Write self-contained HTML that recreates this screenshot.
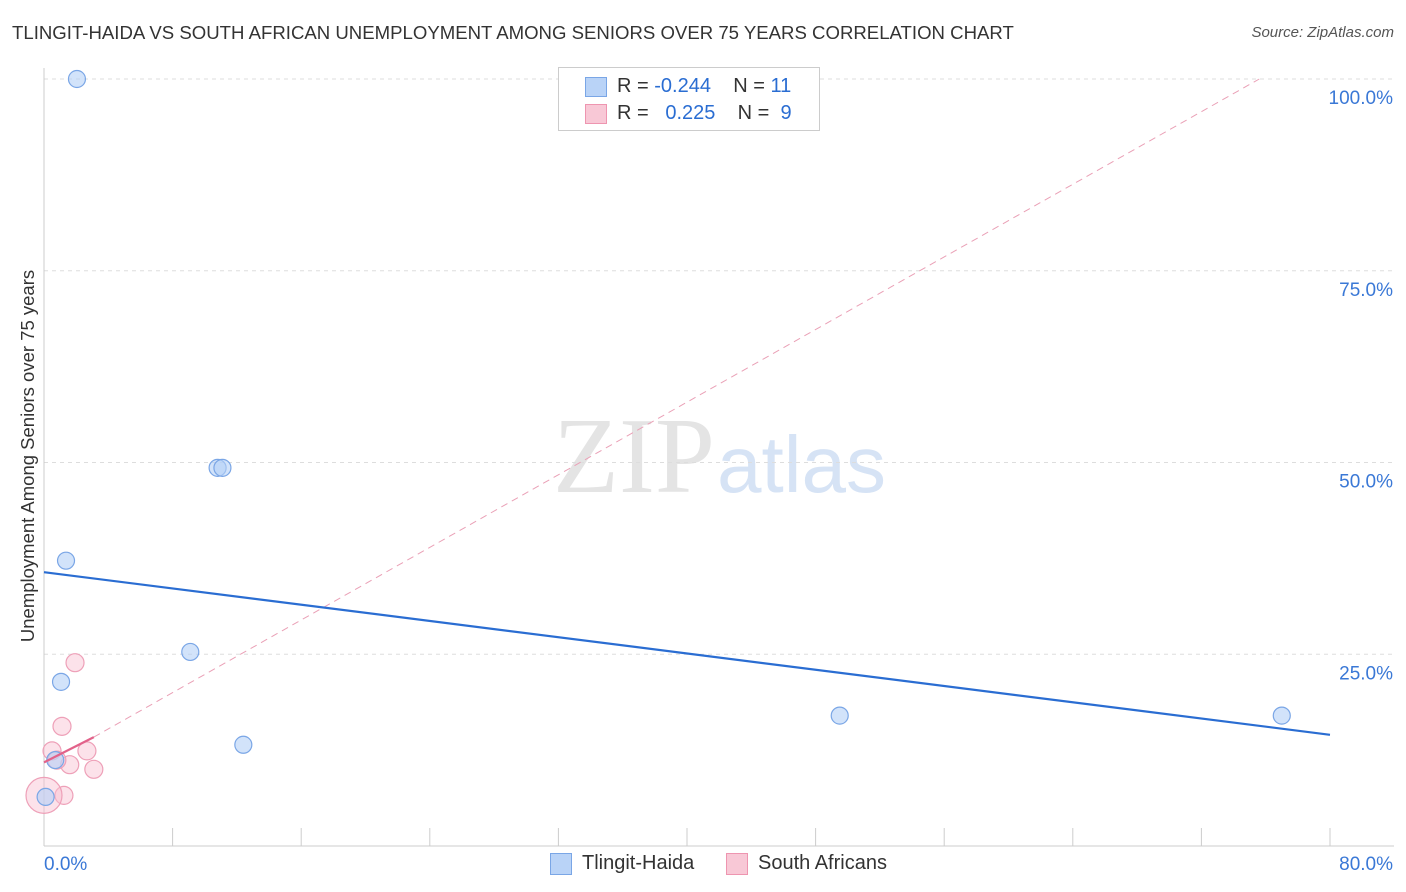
<!DOCTYPE html>
<html><head><meta charset="utf-8">
<style>
body{margin:0;background:#fff;font-family:"Liberation Sans",sans-serif;}
#wrap{position:relative;width:1406px;height:892px;overflow:hidden;}
.t{position:absolute;white-space:nowrap;}
</style></head>
<body>
<div id="wrap">
<div class="t" style="left:12px;top:22px;font-size:18.6px;color:#333;">TLINGIT-HAIDA VS SOUTH AFRICAN UNEMPLOYMENT AMONG SENIORS OVER 75 YEARS CORRELATION CHART</div>
<div class="t" style="right:12px;top:24px;font-size:15px;color:#555;font-style:italic;">Source: ZipAtlas.com</div>
<svg id="svg" width="1406" height="892" style="position:absolute;left:0;top:0">
<text x="553" y="492" font-size="108" font-family="Liberation Serif" fill="#e4e4e4">ZIP</text>
<text x="717" y="492" font-size="80" font-family="Liberation Sans" fill="#d6e3f5">atlas</text>
</svg>
<div style="position:absolute;left:558px;top:67px;width:260px;height:62px;border:1px solid #ccc;background:#fff;">
 <div style="position:absolute;left:26px;top:9px;width:20px;height:18px;background:#b9d3f7;border:1px solid #7aa6e6"></div>
 <div class="t" style="left:58px;top:7px;font-size:20px;color:#333">R = <span style="color:#2a6dd2">-0.244</span>&nbsp;&nbsp;&nbsp; N = <span style="color:#2a6dd2">11</span></div>
 <div style="position:absolute;left:26px;top:36px;width:20px;height:18px;background:#f8c8d6;border:1px solid #ee95b0"></div>
 <div class="t" style="left:58px;top:34px;font-size:20px;color:#333">R = &nbsp;&nbsp;<span style="color:#2a6dd2">0.225</span>&nbsp;&nbsp;&nbsp; N = &nbsp;<span style="color:#2a6dd2">9</span></div>
</div>
<div class="t" style="left:-172px;top:445px;font-size:18.5px;color:#333;transform:rotate(-90deg);width:400px;text-align:center;">Unemployment Among Seniors over 75 years</div>
<div style="position:absolute;left:550px;top:853px;width:20px;height:20px;background:#b9d3f7;border:1px solid #7aa6e6"></div>
<div class="t" style="left:582px;top:852px;font-size:20px;color:#333">Tlingit-Haida</div>
<div style="position:absolute;left:726px;top:853px;width:20px;height:20px;background:#f8c8d6;border:1px solid #ee95b0"></div>
<div class="t" style="left:758px;top:852px;font-size:20px;color:#333">South Africans</div>
</div>
<script>
const xTicks=[0,80];
const yTicks=[25,50,75,100];
const blueX=[2.05,1.37,10.8,11.1,9.1,1.06,12.4,49.5,77.0,0.7,0.1];
const blueY=[100,37.2,49.3,49.3,25.3,21.4,13.2,17.0,17.0,11.2,6.4];
const pinkX=[1.93,1.12,0.5,2.67,1.6,3.1,0.8,1.24,0.0];
const pinkY=[23.9,15.6,12.4,12.4,10.6,10.0,11.2,6.6,6.6];
const pinkR=[9,9,9,9,9,9,9,9,18];
const blueTrend=[35.7,14.5];
const pinkTrend=[10.9,14.2,3.1];
const pinkDash=[75.6,100];
const sx=v=>44+v/80*1286;
const sy=v=>846-v*7.67;
const svg=document.getElementById('svg');
const NS='http://www.w3.org/2000/svg';
function mk(tag,attrs){const e=document.createElementNS(NS,tag);for(const k in attrs)e.setAttribute(k,attrs[k]);svg.appendChild(e);return e;}
yTicks.forEach(v=>{
 const l=mk('line',{x1:44,x2:1394,y1:sy(v),y2:sy(v),stroke:'#ddd','stroke-dasharray':'4,4'});
 
 
 const t=mk('text',{x:1393,y:sy(v)+25,'text-anchor':'end','font-size':19,fill:'#3a78d6'});
 t.textContent=v.toFixed(1)+'%';
 
 
});
let a=mk('line',{x1:44,x2:44,y1:68,y2:846,stroke:'#ccc'});


a=mk('line',{x1:44,x2:1394,y1:846,y2:846,stroke:'#ccc'});


for(let i=1;i<=10;i++){const tk=mk('line',{x1:sx(i*8),x2:sx(i*8),y1:828,y2:846,stroke:'#ccc'});
 
 }
xTicks.forEach((v,i)=>{const t=mk('text',{x:i?1393:44,y:870,'text-anchor':i?'end':'start','font-size':19,fill:'#3a78d6'});
 t.textContent=v.toFixed(1)+'%';
 
 });
let d=mk('line',{x1:sx(pinkTrend[2]),y1:sy(pinkTrend[1]),x2:sx(pinkDash[0]),y2:sy(pinkDash[1]),stroke:'#eaa0b6','stroke-width':1,'stroke-dasharray':'7,5'});


pinkX.forEach((x,i)=>{const c=mk('circle',{cx:sx(x),cy:sy(pinkY[i]),r:pinkR[i],fill:'rgba(248,190,208,0.45)',stroke:'#eea0b8','stroke-width':1.2});
 
 });
blueX.forEach((x,i)=>{const c=mk('circle',{cx:sx(x),cy:sy(blueY[i]),r:8.5,fill:'rgba(180,208,246,0.6)',stroke:'#7aa6e6','stroke-width':1.2});
 
 });
let b=mk('line',{x1:sx(0),y1:sy(blueTrend[0]),x2:sx(80),y2:sy(blueTrend[1]),stroke:'#2a6dd2','stroke-width':2.2});


let p=mk('line',{x1:sx(0),y1:sy(pinkTrend[0]),x2:sx(pinkTrend[2]),y2:sy(pinkTrend[1]),stroke:'#e2628a','stroke-width':2.2});


</script>
</body></html>
